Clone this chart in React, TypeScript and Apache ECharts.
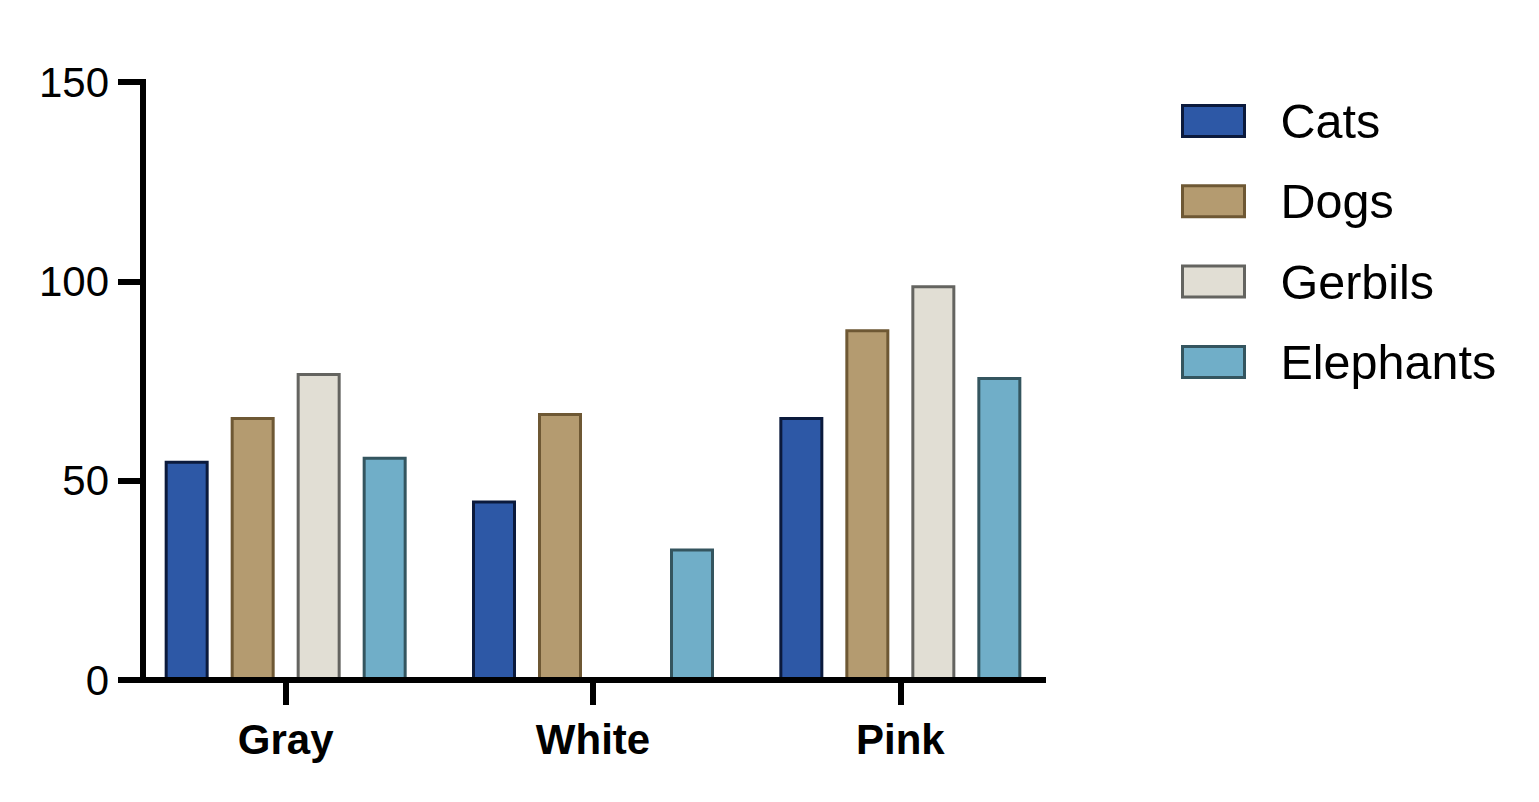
import { useEffect, useRef } from 'react';
import * as echarts from 'echarts';

const categories = ['Gray', 'White', 'Pink'];
const seriesNames = ['Cats', 'Dogs', 'Gerbils', 'Elephants'];
const cats = [55, 45, 66];
const dogs = [66, 67, 88];
const gerbils = [77, null, 99];
const elephants = [56, 33, 76];
const yTicks = [0, 50, 100, 150];

const fills = ['#2D58A6', '#B49B70', '#E1DED4', '#70AEC8'];
const borders = ['#0B1A3C', '#6E5834', '#646460', '#34555F'];

const FONT = '"Liberation Sans", Arial, Helvetica, sans-serif';

export default function App() {
  const ref = useRef<HTMLDivElement | null>(null);

  useEffect(() => {
    if (!ref.current) return;
    const chart = echarts.init(ref.current, undefined, { renderer: 'svg' });
    const values = [cats, dogs, gerbils, elephants];
    chart.setOption({
      animation: false,
      backgroundColor: '#ffffff',
      textStyle: { fontFamily: FONT, color: '#000' },
      grid: { left: 132, top: 82, width: 922, height: 598, containLabel: false },
      legend: {
        orient: 'vertical',
        left: 1176,
        top: 91,
        itemWidth: 62,
        itemHeight: 31,
        itemGap: 30.3,
        icon: 'rect',
        data: seriesNames,
        selectedMode: false,
        itemStyle: { borderWidth: 3 },
        textStyle: { fontFamily: FONT, fontSize: 48.5, color: '#000', lineHeight: 50, padding: [0, 0, 0, 31] },
      },
      xAxis: {
        type: 'category',
        data: categories,
        axisLine: { show: false },
        axisTick: { show: true, alignWithLabel: true, length: 25, lineStyle: { color: '#000', width: 6 } },
        axisLabel: { fontFamily: FONT, fontSize: 42, fontWeight: 'bold', color: '#000', margin: 38 },
      },
      yAxis: {
        type: 'value',
        min: yTicks[0],
        max: yTicks[yTicks.length - 1],
        interval: yTicks[1] - yTicks[0],
        offset: -11,
        splitLine: { show: false },
        axisLine: { show: true, lineStyle: { color: '#000', width: 6, cap: 'square' } },
        axisTick: { show: true, length: 25, lineStyle: { color: '#000', width: 6 } },
        axisLabel: { fontFamily: FONT, fontSize: 42, color: '#000', margin: 34 },
      },
      graphic: [
        {
          type: 'line',
          z: 100,
          shape: { x1: 118, y1: 680, x2: 1046, y2: 680 },
          style: { stroke: '#000', lineWidth: 6 },
        },
      ],
      series: seriesNames.map((name, i) => ({
        name,
        type: 'bar',
        data: values[i],
        barWidth: 44,
        barGap: '50%',
        itemStyle: { color: fills[i], borderColor: borders[i], borderWidth: 3 },
      })),
    });
    const onResize = () => chart.resize();
    window.addEventListener('resize', onResize);
    return () => {
      window.removeEventListener('resize', onResize);
      chart.dispose();
    };
  }, []);

  return <div ref={ref} style={{ position: 'fixed', left: 0, top: 0, width: '100vw', height: '100vh' }} />;
}
